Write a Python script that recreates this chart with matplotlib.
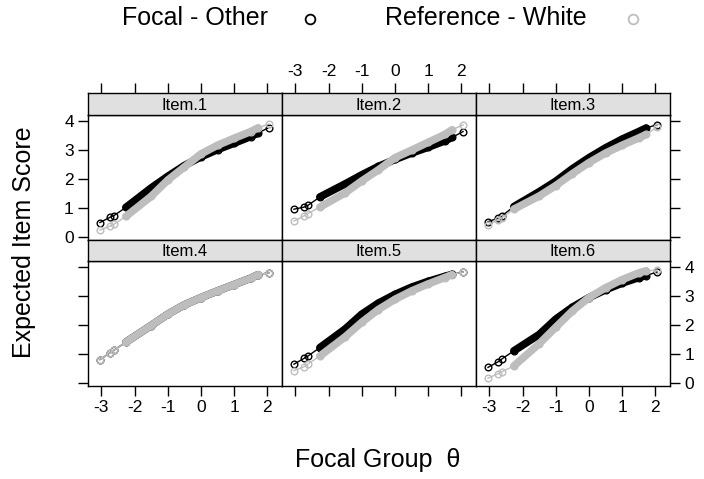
import matplotlib
matplotlib.use("Agg")
import matplotlib.pyplot as plt

plt.rcParams['font.family'] = ['Liberation Sans', 'DejaVu Sans']
plt.rcParams['axes.unicode_minus'] = False

# focal theta values at which the curves are read
theta = [-3.04, -2.74, -2.62, -2.26, -1.5, -1.0, -0.5, 0.0, 0.5, 1.0, 1.5, 1.72, 2.05]
# the dense part of each curve (index range)
dense_start = 3
dense_end = 11

items = ["Item.1", "Item.2", "Item.3", "Item.4", "Item.5", "Item.6"]

focal = [
    [0.49, 0.67, 0.73, 1.01, 1.68, 2.08, 2.45, 2.75, 3.00, 3.22, 3.45, 3.57, 3.76],
    [0.95, 1.02, 1.08, 1.37, 1.82, 2.13, 2.42, 2.66, 2.88, 3.08, 3.30, 3.42, 3.62],
    [0.52, 0.64, 0.72, 1.04, 1.55, 1.91, 2.34, 2.72, 3.06, 3.36, 3.62, 3.74, 3.86],
    [0.80, 1.03, 1.12, 1.40, 1.97, 2.36, 2.68, 2.93, 3.16, 3.38, 3.60, 3.72, 3.79],
    [0.64, 0.84, 0.92, 1.21, 1.85, 2.36, 2.74, 3.04, 3.29, 3.49, 3.66, 3.73, 3.81],
    [0.53, 0.72, 0.82, 1.10, 1.66, 2.19, 2.60, 2.93, 3.20, 3.43, 3.62, 3.69, 3.81],
]
reference = [
    [0.23, 0.37, 0.43, 0.70, 1.39, 1.95, 2.40, 2.85, 3.15, 3.39, 3.62, 3.75, 3.88],
    [0.54, 0.72, 0.80, 1.02, 1.51, 1.92, 2.30, 2.72, 2.98, 3.25, 3.52, 3.68, 3.85],
    [0.41, 0.57, 0.66, 0.95, 1.40, 1.76, 2.17, 2.55, 2.88, 3.15, 3.40, 3.52, 3.77],
    [0.80, 1.03, 1.12, 1.40, 1.97, 2.36, 2.68, 2.93, 3.16, 3.38, 3.60, 3.72, 3.79],
    [0.42, 0.55, 0.65, 0.92, 1.58, 2.08, 2.52, 2.87, 3.16, 3.40, 3.62, 3.72, 3.81],
    [0.16, 0.31, 0.38, 0.58, 1.34, 1.91, 2.47, 2.93, 3.27, 3.55, 3.78, 3.85, 3.88],
]

groups = ["Focal - Other", "Reference - White"]
colors = ["black", "#BDBDBD"]

xticks = [-3, -2, -1, 0, 1, 2]
yticks = [0, 1, 2, 3, 4]

W, H = 704, 479
fig = plt.figure(figsize=(W / 100, H / 100), dpi=100)


def box(x0, y0, x1, y1):
    # pixel box -> figure fraction
    return [x0 / W, 1 - y1 / H, (x1 - x0) / W, (y1 - y0) / H]


col_left = [88, 282, 476]
pw = 194
rows = [(93, 115, 240), (240, 261, 386)]  # strip top, panel top, panel bottom

tick_kw = dict(direction='out', length=7.2, width=1, labelsize=12.5, pad=3)

for i, name in enumerate(items):
    r, c = divmod(i, 3)
    st, pt, pb = rows[r]
    x0 = col_left[c]

    ax = fig.add_axes(box(x0, pt, x0 + pw, pb))
    ax.set_xlim(-3.40, 2.44)
    ax.set_ylim(-0.11, 4.19)
    for s in ax.spines.values():
        s.set_linewidth(1)

    for g, data in enumerate([focal[i], reference[i]]):
        col = colors[g]
        ax.plot(theta, data, color=col, lw=1, marker='o', ms=4.8,
                mfc='none', mec=col, mew=1)
        ax.plot(theta[dense_start:dense_end + 1], data[dense_start:dense_end + 1],
                color=col, lw=5.5, solid_capstyle='round')

    # ticks: left on col 0, right on col 2, bottom on row 1
    ax.tick_params(axis='both', **tick_kw)
    ax.set_xticks(xticks)
    ax.set_yticks(yticks)
    ax.tick_params(axis='x', bottom=(r == 1), top=False,
                   labelbottom=(r == 1 and c != 1), labeltop=False)
    ax.tick_params(axis='y', left=(c == 0), right=(c == 2),
                   labelleft=(c == 0 and r == 0), labelright=(c == 2 and r == 1))

    # strip
    sx = fig.add_axes(box(x0, st, x0 + pw, pt))
    sx.set_facecolor('#E0E0E0')
    sx.set_xlim(-3.40, 2.44)
    sx.set_ylim(0, 1)
    sx.set_yticks([])
    for s in sx.spines.values():
        s.set_linewidth(1)
    sx.text(0.5, 0.45, name, transform=sx.transAxes, ha='center', va='center',
            fontsize=12)
    if r == 0:
        sx.set_xticks(xticks)
        sx.tick_params(axis='x', **tick_kw)
        sx.tick_params(axis='x', bottom=False, labelbottom=False, top=True,
                       labeltop=(c == 1))
    else:
        sx.set_xticks([])

# legend across the top
fig.text(122 / W, 1 - 18 / H, groups[0], fontsize=18, ha='left', va='center')
fig.text(385 / W, 1 - 18 / H, groups[1], fontsize=18, ha='left', va='center')
lax = fig.add_axes([0, 0, 1, 1], facecolor='none')
lax.set_xlim(0, W)
lax.set_ylim(H, 0)
lax.axis('off')
lax.plot([310], [19], 'o', ms=7, mfc='none', mec=colors[0], mew=1.3)
lax.plot([633], [19], 'o', ms=7, mfc='none', mec=colors[1], mew=1.3)

fig.text(24 / W, 1 - 242 / H, "Expected Item Score", fontsize=18, rotation=90,
         ha='center', va='center')
fig.text(378 / W, 1 - 460 / H, "Focal Group  \u03b8", fontsize=18,
         ha='center', va='center')

fig.savefig("out.png", dpi=100)
